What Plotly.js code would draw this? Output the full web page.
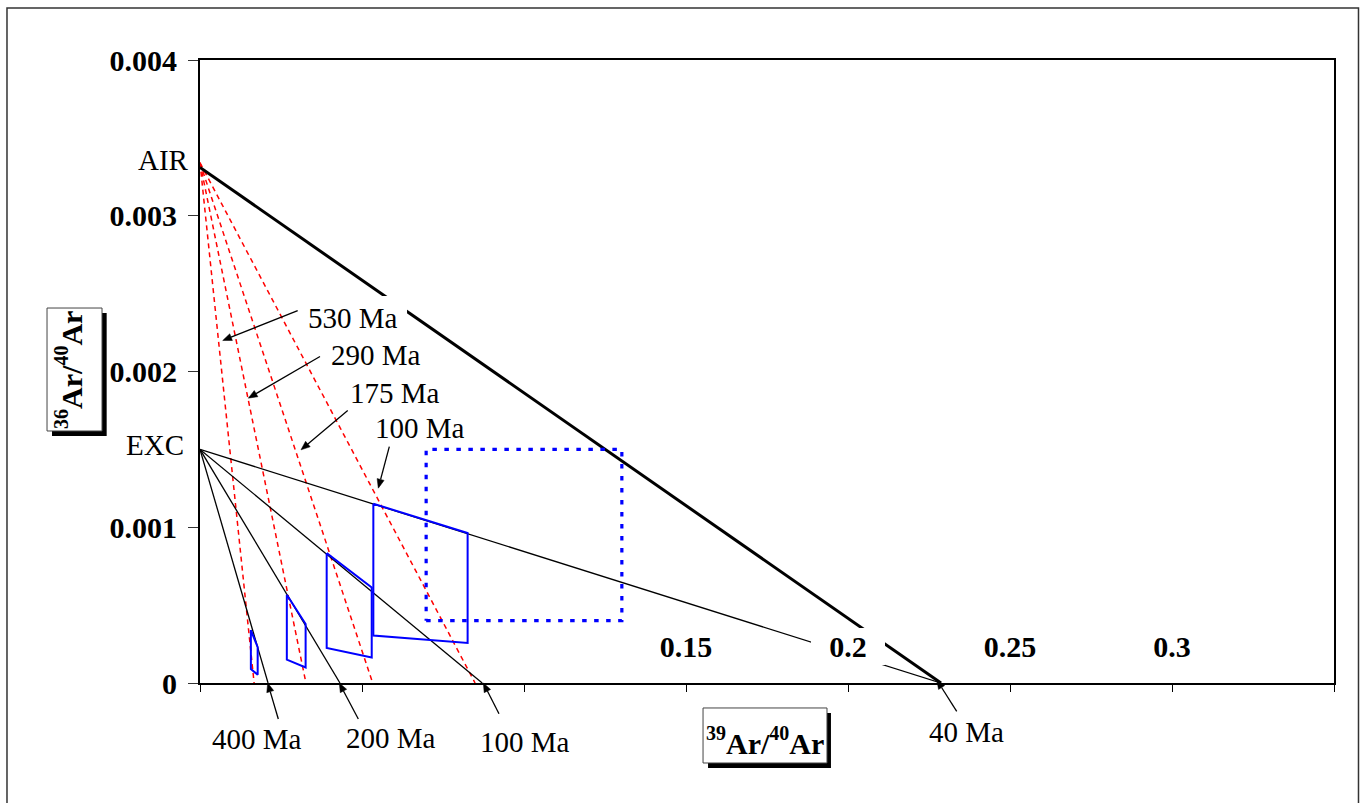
<!DOCTYPE html>
<html><head><meta charset="utf-8">
<script src="https://cdn.plot.ly/plotly-3.0.1.min.js"></script>
<style>html,body{margin:0;padding:0;background:#fff}#chart{width:1367px;height:803px}</style>
</head><body><div id="chart"></div>
<script>
// ---------- data ----------
const airRatio = 0.00334;        // AIR end of the age isochrons (36Ar/40Ar)
const airLineRatio = 0.00331;    // AIR end of the AIR - 40 Ma line
const excRatio = 0.0015;         // EXC end of the excess-argon isochrons

const redAges = ['530 Ma', '290 Ma', '175 Ma', '100 Ma'];
const redXIntercepts = [0.0167, 0.0327, 0.0533, 0.0849];

const blackAges = ['400 Ma', '200 Ma', '100 Ma', '40 Ma'];
const blackXIntercepts = [0.0210, 0.0432, 0.0871, 0.2287];

const poly1X = [0.0157, 0.0157, 0.0178, 0.0178, 0.0157];
const poly1Y = [0.00034, 0.00009, 0.000053, 0.00023, 0.00034];
const poly2X = [0.0268, 0.0268, 0.0326, 0.0326, 0.0268];
const poly2Y = [0.000567, 0.000150, 0.000100, 0.000379, 0.000567];
const poly3X = [0.0391, 0.0391, 0.0530, 0.0530, 0.0391];
const poly3Y = [0.000834, 0.000225, 0.000164, 0.000613, 0.000834];
const poly4X = [0.0535, 0.0535, 0.0826, 0.0826, 0.0535];
const poly4Y = [0.001151, 0.000305, 0.000257, 0.000963, 0.001151];

const boxX = [0.0698, 0.1302];
const boxY = [0.0004, 0.0015];

const xTickVals = [0, 0.05, 0.1, 0.15, 0.2, 0.25, 0.3, 0.35];
const xLabelVals = [0.15, 0.2, 0.25, 0.3];
const xLabelText = ['0.15', '0.2', '0.25', '0.3'];
const yTickVals = [0, 0.001, 0.002, 0.003, 0.004];
const yTickText = ['0', '0.001', '0.002', '0.003', '0.004'];
const xTitleParts = ['39', 'Ar/', '40', 'Ar'];
const yTitleParts = ['36', 'Ar/', '40', 'Ar'];

// ---------- geometry of the figure ----------
const W = 1367, H = 803, M = {l: 200, r: 33, t: 60, b: 120};
const X_MAX = 0.35, Y_MAX = 0.004;
const PW = W - M.l - M.r, PH = H - M.t - M.b;   // plot-area size in px

// ---------- traces ----------
const traces = [];
redXIntercepts.forEach((xi, i) => {
  traces.push({x: [0, xi], y: [airRatio, 0], mode: 'lines', name: redAges[i] + ' isochron',
    line: {color: '#ff0000', width: 1.5, dash: '5px,4px'}, hoverinfo: 'skip'});
});
traces.push({x: [0, blackXIntercepts[3]], y: [airLineRatio, 0], mode: 'lines', name: 'AIR - 40 Ma',
  line: {color: '#000', width: 3}, hoverinfo: 'skip'});
blackXIntercepts.forEach((xi, i) => {
  traces.push({x: [0, xi], y: [excRatio, 0], mode: 'lines', name: 'EXC - ' + blackAges[i],
    line: {color: '#000', width: 1.3}, hoverinfo: 'skip'});
});
[[poly1X, poly1Y], [poly2X, poly2Y], [poly3X, poly3Y], [poly4X, poly4Y]].forEach((p, i) => {
  traces.push({x: p[0], y: p[1], mode: 'lines', name: 'field ' + (i + 1),
    line: {color: '#0000ff', width: 2}, hoverinfo: 'skip'});
});
traces.push({x: [boxX[0], boxX[1], boxX[1], boxX[0], boxX[0]],
  y: [boxY[0], boxY[0], boxY[1], boxY[1], boxY[0]], mode: 'lines', name: 'box',
  line: {color: '#0000ff', width: 3.2, dash: '4.5px,7.5px'}, hoverinfo: 'skip'});

// ---------- labels and arrows ----------
const serif = 'Liberation Serif, Times New Roman, serif';
const fReg = {family: serif, size: 29, color: '#000'};
const fBold = {family: serif, size: 30, color: '#000', weight: 'bold'};

// superscripted title built from its parts (span + baseline-shift, no zero-size helper nodes)
const sup = s => `<span style="font-size:20px;baseline-shift:14px">${s}</span>`;
const titleText = parts => sup(parts[0]) + parts[1] + sup(parts[2]) + parts[3];

// label centres, arrow tails and arrow heads (data units)
const redLabelPos = [[0.04707, 0.002344], [0.05426, 0.002104], [0.06028, 0.001860], [0.06790, 0.001635]];
const redArrowTail = [[0.03015, 0.002391], [0.03704, 0.002096], [0.04559, 0.001749], [0.05843, 0.001518]];
const redArrowTip = [[0.00701, 0.002199], [0.01491, 0.001829], [0.03117, 0.001497], [0.05503, 0.001251]];
const blackLabelPos = [[0.01765, -0.000357], [0.05904, -0.000351], [0.10031, -0.000377], [0.23642, -0.000316]];
const blackArrowTail = [[0.02417, -0.000231], [0.04886, -0.000231], [0.09228, -0.000197], [0.23355, -0.000182]];
const blackArrowTip = [[0.02089, 0], [0.04299, 0], [0.08744, 0], [0.2274, 0.00002]];

const toPaper = p => [p[0] / X_MAX, p[1] / Y_MAX];

const annotations = [];
// x tick labels (inside plot, white boxes masking lines)
xLabelVals.forEach((v, i) => {
  annotations.push({x: v, y: 0.000233, xref: 'x', yref: 'y', text: xLabelText[i], showarrow: false,
    font: fBold, bgcolor: '#fff', width: 74, height: 37, borderpad: 0, borderwidth: 0});
});
redAges.concat(blackAges).forEach((t, i) => {
  const p = toPaper(redLabelPos.concat(blackLabelPos)[i]);
  annotations.push({x: p[0], y: p[1], xref: 'paper', yref: 'paper', xanchor: 'center', yanchor: 'middle',
    text: t, showarrow: false, font: fReg});
});
annotations.push({x: 0, y: 0.003358, xref: 'x', yref: 'y', xanchor: 'right', xshift: -9,
  text: 'AIR', showarrow: false, font: fReg});
annotations.push({x: 0, y: 0.001529, xref: 'x', yref: 'y', xanchor: 'right', xshift: -14,
  text: 'EXC', showarrow: false, font: fReg});
// axis titles in framed boxes
annotations.push({x: -0.1116, y: 0.5032, xref: 'paper', yref: 'paper', textangle: -90, xshift: -5,
  xanchor: 'center', yanchor: 'middle', text: titleText(yTitleParts), showarrow: false, font: fBold});
annotations.push({x: 0.4982, y: -0.0843, xref: 'paper', yref: 'paper', yshift: -5,
  xanchor: 'center', yanchor: 'middle', text: titleText(xTitleParts), showarrow: false, font: fBold});

// arrows: a line plus a filled head, in paper units (not clipped to the plot area)
function arrowShapes(tail, tip) {
  const t = toPaper(tail), h = toPaper(tip);
  const dx = (h[0] - t[0]) * PW, dy = (h[1] - t[1]) * PH;
  const len = Math.hypot(dx, dy), ux = dx / len, uy = dy / len;
  const L = 9, HW = 3.6;
  const bx = h[0] * PW - ux * L, by = h[1] * PH - uy * L;
  const p1 = [(bx - uy * HW) / PW, (by + ux * HW) / PH];
  const p2 = [(bx + uy * HW) / PW, (by - ux * HW) / PH];
  return [
    {type: 'line', xref: 'paper', yref: 'paper', x0: t[0], y0: t[1], x1: bx / PW, y1: by / PH,
      line: {color: '#000', width: 1.3}, layer: 'above'},
    {type: 'path', xref: 'paper', yref: 'paper',
      path: `M${h[0]},${h[1]} L${p1[0]},${p1[1]} L${p2[0]},${p2[1]} Z`,
      fillcolor: '#000', line: {color: '#000', width: 0.5}, layer: 'above'}
  ];
}

// ---------- shapes: outer frame, label mask, title boxes, arrows ----------
const shapes = [
  {type: 'rect', xref: 'paper', yref: 'paper', x0: -0.1702, x1: 1.0216, y0: -0.5, y1: 1.0835,
    line: {color: '#333', width: 1.5}, fillcolor: 'rgba(0,0,0,0)', layer: 'below'},
  // white backing behind the "530 Ma" label (interrupts the AIR line)
  {type: 'rect', xref: 'x', yref: 'y', x0: 0.0302, x1: 0.0639, y0: 0.00219, y1: 0.002485,
    line: {width: 0}, fillcolor: '#fff', layer: 'above'},
  {type: 'rect', xref: 'paper', yref: 'paper', x0: -0.1305, x1: -0.0823, y0: 0.3965, y1: 0.5939,
    line: {width: 0}, fillcolor: '#000', layer: 'above'},
  {type: 'rect', xref: 'paper', yref: 'paper', x0: -0.1349, x1: -0.0864, y0: 0.4045, y1: 0.6019,
    line: {color: '#444', width: 1}, fillcolor: '#fff', layer: 'above'},
  {type: 'rect', xref: 'paper', yref: 'paper', x0: 0.448, x1: 0.5564, y0: -0.1364, y1: -0.0482,
    line: {width: 0}, fillcolor: '#000', layer: 'above'},
  {type: 'rect', xref: 'paper', yref: 'paper', x0: 0.4436, x1: 0.5529, y0: -0.1284, y1: -0.0401,
    line: {color: '#444', width: 1}, fillcolor: '#fff', layer: 'above'}
];
redArrowTail.concat(blackArrowTail).forEach((tl, i) => {
  shapes.push(...arrowShapes(tl, redArrowTip.concat(blackArrowTip)[i]));
});

const layout = {
  width: W, height: H,
  margin: M,
  paper_bgcolor: '#fff', plot_bgcolor: '#fff',
  showlegend: false,
  font: {family: serif, color: '#000'},
  xaxis: {range: [0, X_MAX], tickvals: xTickVals, ticks: 'outside', ticklen: 7, tickwidth: 1,
    tickcolor: '#000', showticklabels: false, showline: true, linewidth: 2, linecolor: '#000',
    mirror: true, showgrid: false, zeroline: false, fixedrange: true},
  xaxis2: {overlaying: 'x', anchor: 'y', side: 'bottom', range: [0, X_MAX], tickvals: xTickVals,
    ticks: 'inside', ticklen: 7, tickwidth: 1, tickcolor: '#000', showticklabels: false,
    showline: false, showgrid: false, zeroline: false, fixedrange: true},
  yaxis: {range: [0, Y_MAX], tickvals: yTickVals, ticktext: yTickText, ticks: 'outside', ticklen: 10,
    tickwidth: 1, tickcolor: '#333', showticklabels: true, tickfont: fBold, ticklabelstandoff: 5,
    showline: true, linewidth: 2, linecolor: '#000', mirror: true, showgrid: false, zeroline: false,
    fixedrange: true},
  yaxis2: {overlaying: 'y', anchor: 'x', side: 'left', range: [0, Y_MAX], tickvals: yTickVals,
    ticks: 'inside', ticklen: 10, tickwidth: 1, tickcolor: '#333', showticklabels: false,
    showline: false, showgrid: false, zeroline: false, fixedrange: true},
  annotations: annotations,
  shapes: shapes
};

Plotly.newPlot('chart', traces, layout, {displayModeBar: false, responsive: false});
</script>
</body></html>
